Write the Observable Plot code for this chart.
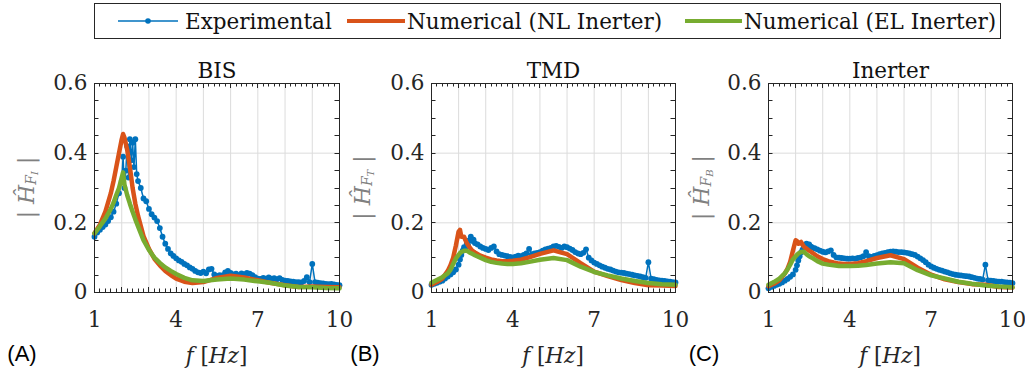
<!DOCTYPE html>
<html>
<head>
<meta charset="utf-8">
<script src="https://cdn.jsdelivr.net/npm/d3@7"></script>
<script src="https://cdn.jsdelivr.net/npm/@observablehq/plot@0.6"></script>
<style>
  html, body { margin: 0; padding: 0; background: #fff; }
  #wrap { position: relative; width: 1025px; height: 374px; overflow: hidden; background: #fff; }
  .panel { position: absolute; top: 44px; }
  #legend { position: absolute; left: 94px; top: 3px; }
</style>
</head>
<body>
<div id="wrap"></div>
<script>
// ---------------- data ----------------
const panelTitles = ["BIS", "TMD", "Inerter"];
const panelTags = ["(A)", "(B)", "(C)"];
const ySubs = ["I", "T", "B"];
const xTicks = [1, 4, 7, 10];
const yTicks = [0, 0.2, 0.4, 0.6];
const seriesNames = ["Experimental", "Numerical (NL Inerter)", "Numerical (EL Inerter)"];
const seriesColors = ["#0072BD", "#D95319", "#77AC30"];

const freqExp = [
  1.0,1.1,1.2,1.3,1.4,1.5,1.6,1.7,1.8,1.9,
  2.0,2.05,2.1,2.15,2.2,2.25,2.3,2.35,2.4,2.45,2.5,2.55,2.6,
  2.7,2.8,2.9,3.0,3.1,3.2,3.3,3.4,3.5,3.6,3.7,3.8,3.9,
  4.0,4.1,4.2,4.3,4.4,4.5,4.6,4.7,4.8,4.9,
  5.0,5.1,5.2,5.3,5.4,5.5,5.6,5.7,5.8,5.9,
  6.0,6.1,6.2,6.3,6.4,6.5,6.6,6.7,6.8,6.9,
  7.0,7.1,7.2,7.3,7.4,7.5,7.6,7.7,7.8,7.9,
  8.0,8.1,8.2,8.3,8.4,8.5,8.6,8.7,8.8,8.9,
  9.0,9.1,9.2,9.3,9.4,9.5,9.6,9.7,9.8,9.9,10.0
];
const expBIS = [
  0.160,0.172,0.180,0.188,0.195,0.205,0.216,0.232,0.255,0.285,
  0.320,0.390,0.300,0.350,0.420,0.330,0.440,0.380,0.430,0.360,0.440,0.340,0.320,
  0.300,0.270,0.262,0.240,0.225,0.215,0.205,0.185,0.160,0.140,0.125,0.112,0.105,
  0.098,0.092,0.088,0.082,0.078,0.072,0.068,0.062,0.058,0.056,
  0.060,0.055,0.066,0.068,0.052,0.048,0.050,0.049,0.058,0.062,
  0.056,0.052,0.054,0.050,0.055,0.053,0.056,0.054,0.050,0.044,
  0.040,0.039,0.042,0.040,0.043,0.040,0.041,0.038,0.041,0.036,
  0.034,0.033,0.032,0.031,0.030,0.030,0.029,0.033,0.044,0.030,
  0.082,0.030,0.028,0.027,0.026,0.025,0.024,0.025,0.023,0.022,0.021
];
const expTMD = [
  0.022,0.025,0.028,0.031,0.034,0.040,0.046,0.052,0.058,0.066,
  0.080,0.095,0.108,0.120,0.130,0.128,0.140,0.135,0.150,0.160,0.148,0.152,0.142,
  0.138,0.132,0.128,0.125,0.122,0.128,0.132,0.118,0.110,0.108,0.106,0.104,0.102,
  0.101,0.103,0.106,0.104,0.108,0.112,0.125,0.110,0.112,0.114,
  0.116,0.120,0.124,0.126,0.128,0.132,0.134,0.131,0.128,0.132,
  0.130,0.126,0.122,0.116,0.112,0.110,0.114,0.124,0.100,0.092,
  0.086,0.082,0.078,0.074,0.071,0.068,0.066,0.063,0.060,0.058,
  0.057,0.056,0.054,0.053,0.051,0.049,0.048,0.046,0.044,0.042,
  0.087,0.040,0.038,0.036,0.035,0.034,0.033,0.032,0.031,0.030,0.029
];
const expInerter = [
  0.012,0.016,0.019,0.022,0.025,0.029,0.034,0.039,0.045,0.052,
  0.065,0.078,0.092,0.104,0.115,0.122,0.130,0.134,0.140,0.136,0.138,0.132,0.130,
  0.127,0.124,0.120,0.117,0.115,0.118,0.121,0.108,0.101,0.100,0.099,0.098,0.097,
  0.097,0.098,0.097,0.099,0.101,0.104,0.116,0.104,0.102,0.105,
  0.107,0.110,0.112,0.114,0.116,0.117,0.118,0.117,0.116,0.116,
  0.115,0.114,0.112,0.110,0.108,0.103,0.098,0.093,0.087,0.080,
  0.075,0.071,0.068,0.065,0.063,0.060,0.058,0.055,0.053,0.051,
  0.050,0.049,0.048,0.047,0.046,0.044,0.042,0.040,0.039,0.037,
  0.080,0.035,0.034,0.033,0.032,0.031,0.031,0.030,0.029,0.028,0.027
];

const freqNum = [1.0,1.2,1.4,1.6,1.7,1.8,1.9,2.0,2.05,2.1,2.2,2.3,2.4,2.5,2.6,2.8,3.0,3.2,3.4,3.6,3.8,4.0,4.3,4.6,5.0,5.5,6.0,6.5,7.0,7.5,8.0,8.5,9.0,9.5,10.0];
const nlBIS = [0.170,0.195,0.232,0.285,0.320,0.360,0.400,0.440,0.455,0.445,0.410,0.360,0.300,0.255,0.220,0.162,0.125,0.097,0.078,0.062,0.050,0.040,0.031,0.027,0.030,0.042,0.048,0.043,0.035,0.027,0.021,0.016,0.017,0.016,0.015];
const elBIS = [0.170,0.190,0.212,0.240,0.258,0.280,0.300,0.330,0.345,0.310,0.280,0.255,0.232,0.210,0.190,0.150,0.122,0.100,0.085,0.072,0.062,0.053,0.042,0.035,0.033,0.037,0.040,0.037,0.032,0.027,0.020,0.016,0.015,0.013,0.012];
const nlTMD = [0.022,0.030,0.040,0.062,0.078,0.100,0.135,0.175,0.180,0.160,0.160,0.142,0.130,0.120,0.115,0.106,0.100,0.095,0.092,0.090,0.090,0.091,0.094,0.101,0.111,0.121,0.110,0.084,0.060,0.047,0.036,0.027,0.021,0.020,0.019];
const elTMD = [0.028,0.036,0.044,0.055,0.065,0.082,0.098,0.108,0.113,0.116,0.120,0.120,0.115,0.111,0.107,0.100,0.093,0.088,0.085,0.083,0.082,0.082,0.084,0.088,0.094,0.099,0.093,0.074,0.059,0.049,0.040,0.033,0.027,0.024,0.022];
const nlInerter = [0.018,0.025,0.035,0.054,0.068,0.088,0.120,0.150,0.148,0.140,0.145,0.132,0.126,0.120,0.115,0.104,0.096,0.090,0.086,0.083,0.082,0.082,0.084,0.090,0.099,0.107,0.096,0.071,0.051,0.038,0.030,0.024,0.022,0.016,0.014];
const elInerter = [0.022,0.030,0.040,0.055,0.066,0.080,0.095,0.104,0.108,0.112,0.116,0.117,0.110,0.104,0.100,0.090,0.083,0.080,0.078,0.076,0.076,0.076,0.077,0.079,0.083,0.087,0.084,0.064,0.049,0.040,0.031,0.025,0.020,0.017,0.015];

// ---------------- layout ----------------
const SERIF = "'DejaVu Serif', serif";
const SANS = "'Liberation Sans', Arial, sans-serif";
const FS = 21.5;
const panels = [
  {left: 0,   width: 345, ml: 94, mr: 6,  exp: expBIS,     nl: nlBIS,     el: elBIS,     ylx: 26, tagx: 22},
  {left: 340, width: 340, ml: 91, mr: 5,  exp: expTMD,     nl: nlTMD,     el: elTMD,     ylx: 22, tagx: 25},
  {left: 680, width: 345, ml: 88, mr: 13, exp: expInerter, nl: nlInerter, el: elInerter, ylx: 21, tagx: 24}
];
const H = 330, MT = 39, MB = 82;
const minorX = d3.range(1, 10.001, 0.2).map(d => +d.toFixed(1));
const minorY = d3.range(0, 0.6001, 0.05).map(d => +d.toFixed(2));
const gridXs = [2,3,4,5,6,7,8,9];
const gridYs = [0.2, 0.4];
const wrap = document.getElementById("wrap");

panels.forEach((p, i) => {
  const expData = freqExp.map((f, k) => ({f, v: p.exp[k]}));
  const nlData = freqNum.map((f, k) => ({f, v: p.nl[k]}));
  const elData = freqNum.map((f, k) => ({f, v: p.el[k]}));
  const chart = Plot.plot({
    width: p.width, height: H,
    marginLeft: p.ml, marginRight: p.mr, marginTop: MT, marginBottom: MB,
    style: {fontFamily: SERIF, fontSize: FS + "px", color: "#262626", background: "transparent", overflow: "visible"},
    x: {domain: [1, 10], label: null},
    y: {domain: [0, 0.6], label: null},
    marks: [
      Plot.gridX(gridXs, {stroke: "#dcdcdc", strokeOpacity: 1}),
      Plot.gridY(gridYs, {stroke: "#dcdcdc", strokeOpacity: 1}),
      Plot.line(expData, {x: "f", y: "v", stroke: seriesColors[0], strokeWidth: 1.5}),
      Plot.dot(expData, {x: "f", y: "v", r: 2.9, fill: seriesColors[0], stroke: "none"}),
      Plot.line(nlData, {x: "f", y: "v", stroke: seriesColors[1], strokeWidth: 4.5}),
      Plot.line(elData, {x: "f", y: "v", stroke: seriesColors[2], strokeWidth: 4.5}),
      Plot.frame({stroke: "#262626", strokeWidth: 1}),
      Plot.axisX(xTicks, {anchor: "bottom", tickSize: 0, tickPadding: 19, tickFormat: d => String(d), label: null, fill: "#262626"}),
      Plot.axisY(yTicks, {anchor: "left", tickSize: 0, tickPadding: 7, tickFormat: d => d === 0 ? "0" : d.toFixed(1), label: null, fill: "#262626"}),
      Plot.text([panelTitles[i]], {frameAnchor: "top", dy: -21, fontSize: FS, fill: "#111"})
    ]
  });
  chart.classList.add("panel");
  chart.style.left = p.left + "px";
  chart.style.position = "absolute";
  chart.style.top = "44px";
  wrap.appendChild(chart);

  const svg = d3.select(chart);
  const sx = chart.scale("x"), sy = chart.scale("y");
  const X = v => sx.apply(v), Y = v => sy.apply(v);
  const x0 = X(1), x1 = X(10), y0 = Y(0), y1 = Y(0.6);
  // inward ticks on all four sides, placed with the plot's own scales
  const tg = svg.append("g").attr("stroke", "#262626").attr("stroke-width", 1).attr("fill", "none");
  minorX.forEach(v => {
    const xx = Math.round(X(v)) + 0.5;
    const len = Number.isInteger(v) ? 5 : 3.5;
    tg.append("line").attr("x1", xx).attr("x2", xx).attr("y1", y0).attr("y2", y0 - len);
    tg.append("line").attr("x1", xx).attr("x2", xx).attr("y1", y1).attr("y2", y1 + len);
  });
  minorY.forEach(v => {
    const yy = Math.round(Y(v)) + 0.5;
    tg.append("line").attr("x1", x0).attr("x2", x0 + 4.5).attr("y1", yy).attr("y2", yy);
    tg.append("line").attr("x1", x1).attr("x2", x1 - 4.5).attr("y1", yy).attr("y2", yy);
  });

  const cx = (x0 + x1) / 2;
  const cy = (y0 + y1) / 2;
  // y label
  const yl = svg.append("text")
    .attr("transform", `translate(${p.ylx},${cy}) rotate(-90)`)
    .attr("text-anchor", "middle")
    .attr("dominant-baseline", "central")
    .attr("font-family", SERIF).attr("font-size", 22).attr("fill", "#808080");
  yl.append("tspan").text("|");
  yl.append("tspan").attr("dx", 7).attr("font-style", "italic").text("Ĥ");
  yl.append("tspan").attr("dy", 5).attr("font-size", 14).attr("font-style", "italic").text("F");
  yl.append("tspan").attr("dy", 3).attr("font-size", 10).attr("font-style", "italic").text(ySubs[i]);
  yl.append("tspan").attr("dy", -8).attr("dx", 7).text("|");
  // x label
  const xl = svg.append("text")
    .attr("x", cx).attr("y", 311)
    .attr("text-anchor", "middle").attr("dominant-baseline", "central")
    .attr("font-family", SERIF).attr("font-size", FS).attr("fill", "#262626");
  xl.append("tspan").attr("font-style", "italic").text("f");
  xl.append("tspan").text(" [");
  xl.append("tspan").attr("font-style", "italic").text("Hz");
  xl.append("tspan").text("]");
  // panel tag
  svg.append("text")
    .attr("x", p.tagx).attr("y", 309)
    .attr("dominant-baseline", "central")
    .attr("font-family", SANS).attr("font-size", 22).attr("fill", "#000")
    .text(panelTags[i]);
});

// ---------------- legend ----------------
const leg = d3.select("#wrap").append("svg").attr("id", "legend")
  .attr("width", 907).attr("height", 36);
leg.append("rect").attr("x", 0.5).attr("y", 0.5).attr("width", 906).attr("height", 35)
  .attr("fill", "#fff").attr("stroke", "#262626").attr("stroke-width", 1);
const items = [
  {x1: 24, x2: 84, tx: 91, w: 1.5},
  {x1: 253, x2: 311, tx: 313, w: 4},
  {x1: 591, x2: 648, tx: 650, w: 4}
];
items.forEach((it, k) => {
  leg.append("line").attr("x1", it.x1).attr("x2", it.x2).attr("y1", 18).attr("y2", 18)
    .attr("stroke", seriesColors[k]).attr("stroke-width", it.w);
  if (k === 0) leg.append("circle").attr("cx", (it.x1 + it.x2) / 2).attr("cy", 18).attr("r", 2.8).attr("fill", seriesColors[0]);
  leg.append("text").attr("x", it.tx).attr("y", 18).attr("dominant-baseline", "central")
    .attr("font-family", SERIF).attr("font-size", FS).attr("fill", "#111").text(seriesNames[k]);
});
</script>
</body>
</html>
